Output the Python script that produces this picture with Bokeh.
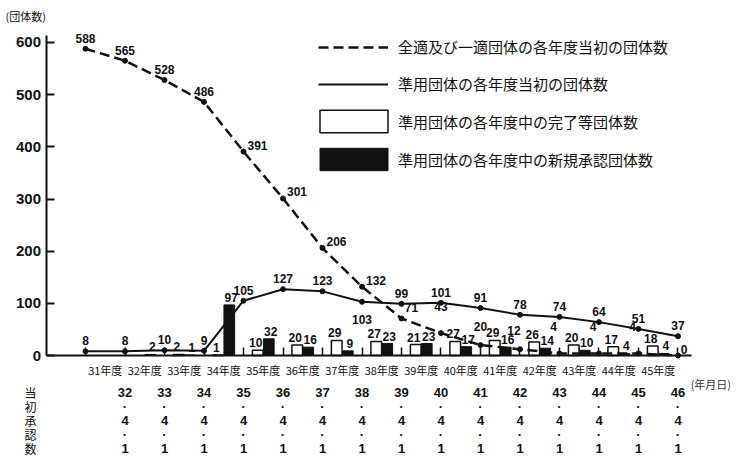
from bokeh.plotting import figure
from bokeh.models import (FixedTicker, LinearAxis, Legend, LegendItem, Label,
                          Range1d, CustomJSTickFormatter)
from bokeh.core.properties import value
from bokeh.embed import file_html
from bokeh.resources import INLINE

# ---------------- data ----------------
# fiscal-year boundaries (start of each 年度, 昭和 year)
boundary_years = [31, 32, 33, 34, 35, 36, 37, 38, 39, 40, 41, 42, 43, 44, 45, 46]
# 全適及び一適団体の各年度当初の団体数
full_apply = [588, 565, 528, 486, 391, 301, 206, 132, 71, 43, 20, 12, 4, 4, 4, 0]
# 準用団体の各年度当初の団体数
quasi_apply = [8, 8, 10, 9, 105, 127, 123, 103, 99, 101, 91, 78, 74, 64, 51, 37]

fiscal_years = [31, 32, 33, 34, 35, 36, 37, 38, 39, 40, 41, 42, 43, 44, 45]
fy_labels = ["31年度", "32年度", "33年度", "34年度", "35年度", "36年度", "37年度", "38年度",
             "39年度", "40年度", "41年度", "42年度", "43年度", "44年度", "45年度"]
# 準用団体の各年度中の完了等団体数
completed = [0, 0, 2, 1, 10, 20, 29, 27, 21, 27, 29, 26, 20, 17, 18]
# 準用団体の各年度中の新規承認団体数
new_approved = [0, 2, 1, 97, 32, 16, 9, 23, 23, 17, 16, 14, 10, 4, 4]

# 当初承認数 table (年・月・日)
table_year = [32, 33, 34, 35, 36, 37, 38, 39, 40, 41, 42, 43, 44, 45, 46]
table_month = [4, 4, 4, 4, 4, 4, 4, 4, 4, 4, 4, 4, 4, 4, 4]
table_day = [1, 1, 1, 1, 1, 1, 1, 1, 1, 1, 1, 1, 1, 1, 1]
table_title = ["当", "初", "承", "認", "数"]

y_ticks = [0, 100, 200, 300, 400, 500, 600]

legend_labels = ["全適及び一適団体の各年度当初の団体数",
                 "準用団体の各年度当初の団体数",
                 "準用団体の各年度中の完了等団体数",
                 "準用団体の各年度中の新規承認団体数"]

# ---------------- styling ----------------
INK = "#111111"
NUM_FONT = value("Liberation Sans")
JP_FONT = "Noto Sans CJK JP"

# label placement (pixels): the 38年度-start label of the solid line sits below its point
solid_label_dy = [-6, -6, -6, -6, -6, -6, -6, 22, -6, -6, -6, -6, -6, -6, -6, -6]
dash_label_dx = [0, 0, 0, 0, 14, 14, 14, 14, 10, 0, 0, -6, -6, -6, -6, 6]
dash_label_dy = [-6, -6, -6, -6, -2, -2, -2, -2, -6, -22, -14, -14, -22, -22, -22, -2]

p = figure(width=742, height=463,
           x_range=Range1d(28.848, 47.633), y_range=Range1d(-207.0, 680.5),
           output_backend="svg", toolbar_location=None,
           x_axis_location=None, y_axis_location=None,
           min_border_left=0, min_border_right=0,
           min_border_top=0, min_border_bottom=0)
p.outline_line_color = None
p.grid.visible = False
p.background_fill_color = "white"
p.border_fill_color = "white"

x_axis_at = fiscal_years[0] - 1   # y axis sits one fiscal year left of the first point

# y axis
yax = LinearAxis(ticker=FixedTicker(ticks=y_ticks), bounds=(0, 613),
                 fixed_location=x_axis_at)
yax.axis_line_color = INK
yax.axis_line_width = 2
yax.major_tick_in = 8
yax.major_tick_out = 0
yax.major_tick_line_width = 2
yax.major_tick_line_color = INK
yax.minor_tick_line_color = None
yax.major_label_standoff = 5
yax.major_label_text_font = "Liberation Sans"
yax.major_label_text_font_style = "bold"
yax.major_label_text_font_size = "15px"
yax.major_label_text_color = INK
p.add_layout(yax, "left")

# x axis: baseline, boundary ticks, 年度 labels
centers = [fy + 0.5 for fy in fiscal_years]
ax1 = LinearAxis(ticker=FixedTicker(ticks=centers, minor_ticks=boundary_years),
                 fixed_location=0, bounds=(x_axis_at, 46.33))
ax1.formatter = CustomJSTickFormatter(args=dict(names=fy_labels, first=fiscal_years[0]),
                                      code="const i = Math.round(tick - 0.5) - first; return names[i] ?? '';")
ax1.axis_line_color = INK
ax1.axis_line_width = 2
ax1.major_tick_line_color = None
ax1.major_tick_in = 0
ax1.major_tick_out = 0
ax1.minor_tick_line_color = INK
ax1.minor_tick_line_width = 1.5
ax1.minor_tick_in = 8
ax1.minor_tick_out = 0
ax1.major_label_standoff = 6
ax1.major_label_text_font = JP_FONT
ax1.major_label_text_font_size = "11px"
ax1.major_label_text_color = INK
p.add_layout(ax1, "below")

# bars
bw = 0.27
w_x = [fy + 0.5 - 0.14 for fy, v in zip(fiscal_years, completed) if v > 0]
w_v = [v for v in completed if v > 0]
b_x = [fy + 0.5 + 0.14 for fy, v in zip(fiscal_years, new_approved) if v > 0]
b_v = [v for v in new_approved if v > 0]

r_white = p.vbar(x=w_x, top=w_v, bottom=0, width=bw, fill_color="white",
                 line_color=INK, line_width=1.5)
r_black = p.vbar(x=b_x, top=b_v, bottom=0, width=bw, fill_color=INK,
                 line_color=INK, line_width=1)

# lines
r_dash = p.line(x=boundary_years, y=full_apply, line_color=INK, line_width=2.5,
                line_dash="10 5")
p.scatter(x=boundary_years, y=full_apply, size=5, color=INK)
r_solid = p.line(x=boundary_years, y=quasi_apply, line_color=INK, line_width=2)
p.scatter(x=boundary_years, y=quasi_apply, size=5, color=INK)

# value labels
lab = dict(text_font=NUM_FONT, text_font_style="bold", text_font_size="12px",
           text_color=INK, text_baseline="bottom", text_align="center")
p.text(x=boundary_years, y=full_apply, text=[str(v) for v in full_apply],
       x_offset=dash_label_dx, y_offset=dash_label_dy, **lab)
p.text(x=boundary_years, y=quasi_apply, text=[str(v) for v in quasi_apply],
       x_offset=0, y_offset=solid_label_dy, **lab)
p.text(x=w_x, y=w_v, text=[str(v) for v in w_v], x_offset=-2, y_offset=-3, **lab)
p.text(x=b_x, y=b_v, text=[str(v) for v in b_v], x_offset=2, y_offset=-3, **lab)

# 当初承認数 table below the axis
row_anchor = -71          # data y of the first table row
row_step = [0, 14, 28, 42, 56]   # pixel offsets of the five rows
tab = dict(text_font=NUM_FONT, text_font_style="bold", text_font_size="13px",
           text_color=INK, text_baseline="middle", text_align="center")
rows = [[str(v) for v in table_year], ["·"] * 15, [str(v) for v in table_month],
        ["·"] * 15, [str(v) for v in table_day]]
for r, txt in enumerate(rows):
    p.text(x=table_year, y=[row_anchor] * len(table_year), text=txt,
           y_offset=row_step[r], **tab)
p.text(x=[29.61] * 5, y=[row_anchor] * 5, text=table_title, y_offset=row_step,
       text_font=value(JP_FONT), text_font_size="12px", text_color=INK,
       text_baseline="middle", text_align="center")

# legends
leg_lines = Legend(items=[LegendItem(label=legend_labels[0], renderers=[r_dash]),
                          LegendItem(label=legend_labels[1], renderers=[r_solid])],
                   location=(318, 369), glyph_width=70, glyph_height=20, spacing=16,
                   label_standoff=10, padding=0, margin=0)
leg_bars = Legend(items=[LegendItem(label=legend_labels[2], renderers=[r_white]),
                         LegendItem(label=legend_labels[3], renderers=[r_black])],
                  location=(311, 290), glyph_width=85, glyph_height=28, spacing=10,
                  label_standoff=2, padding=0, margin=0)
for lg in (leg_lines, leg_bars):
    lg.border_line_color = None
    lg.background_fill_alpha = 0
    lg.label_text_font = JP_FONT
    lg.label_text_font_size = "15px"
    lg.label_text_color = INK
    lg.label_height = 14
    p.add_layout(lg)

# extra texts
p.add_layout(Label(x=28.975, y=651.7, text="(団体数)", text_font=JP_FONT,
                   text_font_size="11px", text_color=INK, text_baseline="middle"))
p.add_layout(Label(x=46.32, y=-53.7, text="(年月日)", text_font=JP_FONT,
                   text_font_size="11px", text_color="#333333", text_baseline="middle"))

open("out.html", "w").write(file_html(p, INLINE))
